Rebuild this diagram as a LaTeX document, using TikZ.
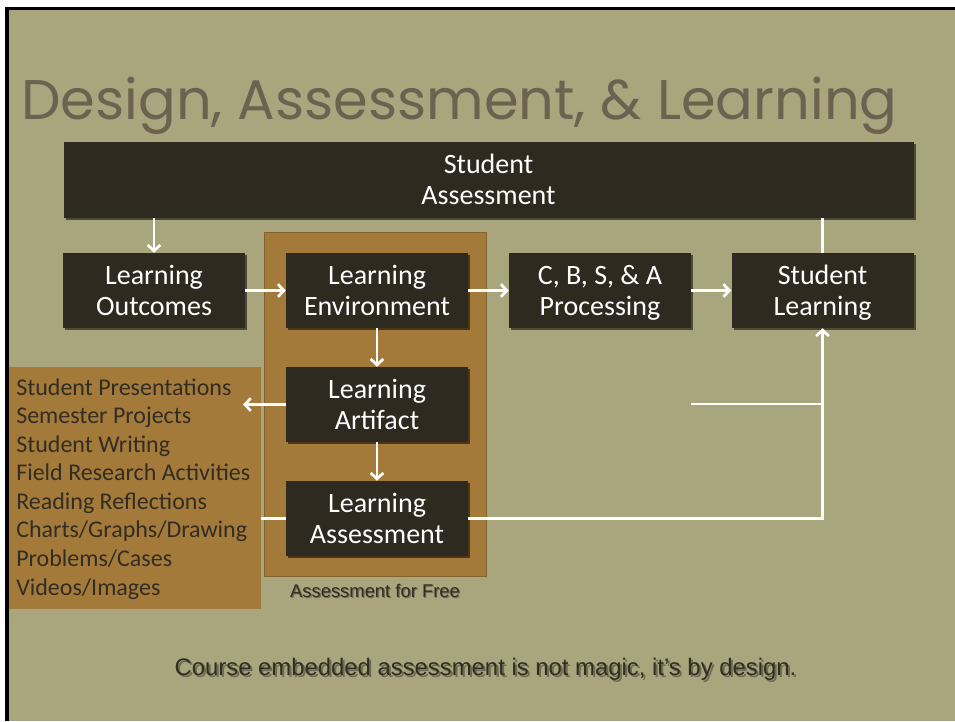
\documentclass[tikz,border=0pt]{standalone}
\usepackage{fontspec}
\setmainfont{Carlito}
\newfontfamily\titlefont{Poppins}
\newfontfamily\arialfont{Liberation Sans}
\usetikzlibrary{arrows.meta,shadows,calc}
\definecolor{slidebg}{RGB}{169,166,126}
\definecolor{boxc}{RGB}{47,42,32}
\definecolor{brownc}{RGB}{164,122,58}
\definecolor{titlec}{RGB}{107,99,80}
\definecolor{darktext}{RGB}{50,45,35}
\newcommand\nodepth[1]{\raisebox{0pt}[\height][0pt]{#1}}
\begin{document}
\begin{tikzpicture}[x=0.75pt,y=-0.75pt,
  stepbox/.style={fill=boxc, text=white, inner sep=0pt, align=center,
    minimum width=136.5pt, minimum height=56.25pt,
    font=\fontsize{21}{23.25}\selectfont,
    drop shadow={shadow xshift=1.5pt, shadow yshift=-1.5pt, opacity=0.55, fill=black}},
  arr/.style={draw=white, line width=2pt, -{Straight Barb[length=4.5pt,width=9.5pt]}},
  wline/.style={draw=white, line width=2pt},
  listline/.style={anchor=base west, inner sep=0pt, text=darktext, font=\fontsize{18}{21}\selectfont},
  plaintext/.style={inner sep=0pt, font=\arialfont\fontsize{17.9}{21}\selectfont}
]
\useasboundingbox (0,0) rectangle (955,721);
\fill[white] (0,0) rectangle (955,721);
\fill[black] (5,7) rectangle (955,10);
\fill[black] (5,7) rectangle (9,721);
\fill[slidebg] (9,10) rectangle (955,721);

% title
\node[anchor=base west, inner sep=0pt, text=titlec] (title) at (21,119)
  {\resizebox{657pt}{!}{\titlefont Design, Assessment, \& Learning}};

% panels
\node[fill=brownc, draw=brownc!80!black, line width=0.5pt, inner sep=0pt,
  minimum width=166.5pt, minimum height=258pt] (panel) at (375,404) {};
\node[fill=brownc, inner sep=0pt, minimum width=189pt, minimum height=181.5pt] (lst) at (135,488) {};

% boxes
\node[stepbox, minimum width=637.5pt, minimum height=57pt] (sa) at (488.5,179.5) {Student\\Assessment};
\node[stepbox] (lo) at (154,290.5) {Learning\\Outcomes};
\node[stepbox] (le) at (377,290.5) {Learning\\Environment};
\node[stepbox] (cbs) at (600,290.5) {C, B, S, \& A\\\nodepth{Processing}};
\node[stepbox] (sl) at (822.5,290.5) {Student\\\nodepth{Learning}};
\node[stepbox] (la) at (377,404.5) {Learning\\Artifact};
\node[stepbox] (las) at (377,518.5) {Learning\\Assessment};

% list
\foreach \t [count=\i from 0] in {Student Presentations, Semester Projects, Student Writing,
  Field Research Activities, Reading Reflections, Charts/Graphs/Drawing, Problems/Cases, Videos/Images}
  \node[listline] (l\i) at (16,395+28.57*\i) {\t};

% connectors
\draw[arr] (sa.south -| lo.north) -- (lo.north);
\draw[arr] (lo.east) -- (le.west);
\draw[arr] (le.east) -- (cbs.west);
\draw[arr] (cbs.east) -- (sl.west);
\draw[wline] (sl.north) -- (sl.north |- sa.south);
\draw[arr] (le.south) -- (la.north);
\coordinate (artip) at (243,404.5);
\draw[arr] (la.west) -- (artip);
\draw[arr] (la.south) -- (las.north);
\draw[wline] (lst.east |- las.west) -- (las.west);
\draw[arr] (las.east) -| (sl.south);
\coordinate (free) at (691,404);
\draw[wline] (free) -- (free -| sl.south);

% captions
\node[plaintext, anchor=base, text=black, opacity=0.35, font=\arialfont\fontsize{13.8}{16}\selectfont] (afs) at (376.2,598.5) {Assessment for Free};
\node[plaintext, anchor=base, text=darktext, font=\arialfont\fontsize{13.8}{16}\selectfont] (af) at (375,597.3) {Assessment for Free};
\node[plaintext, anchor=base, text=black, opacity=0.35] (bts) at (487.5,677) {Course embedded assessment is not magic, it’s by design.};
\node[plaintext, anchor=base, text=darktext] (bt) at (485.5,675) {Course embedded assessment is not magic, it’s by design.};
\end{tikzpicture}
\end{document}
